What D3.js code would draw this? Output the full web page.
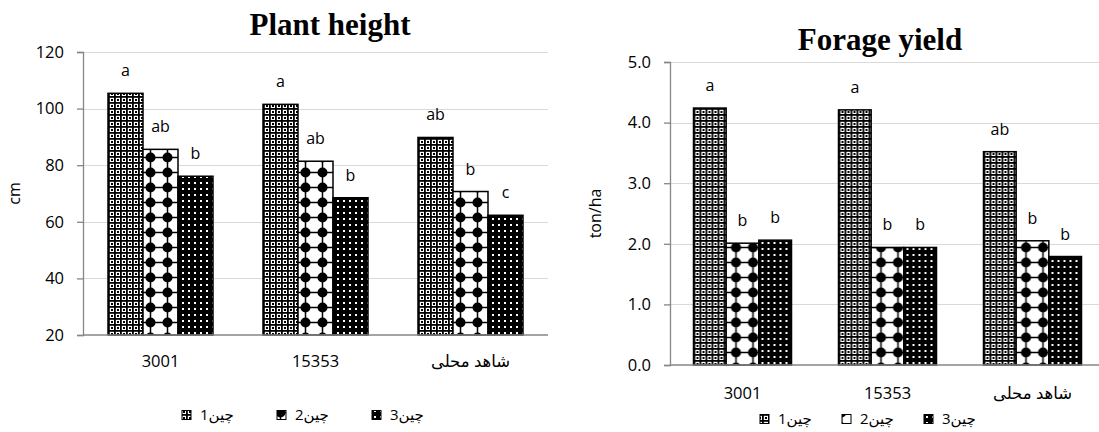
<!DOCTYPE html>
<html><head><meta charset="utf-8">
<script src="https://cdn.jsdelivr.net/npm/d3@7"></script>
<style>
html,body{margin:0;padding:0;background:#fff;}
svg{display:block;}
.t{font-family:"Open Sans","DejaVu Sans",sans-serif;fill:#000;}
.ttl{font-family:"Liberation Serif","Times New Roman",serif;font-weight:bold;fill:#000;}
</style></head>
<body>
<svg id="c" width="1099" height="432"></svg>
<script>
const categories = ["3001", "15353", "شاهد محلی"];
const seriesNames = ["چین1", "چین2", "چین3"];
const heightValues = [[105.4, 85.6, 76.1], [101.5, 81.4, 68.5], [89.8, 70.7, 62.3]];
const heightLetters = [["a", "ab", "b"], ["a", "ab", "b"], ["ab", "b", "c"]];
const heightTicks = [20, 40, 60, 80, 100, 120];
const yieldValues = [[4.24, 2.01, 2.06], [4.21, 1.94, 1.94], [3.52, 2.05, 1.79]];
const yieldLetters = [["a", "b", "b"], ["a", "b", "b"], ["ab", "b", "b"]];
const yieldTicks = [0, 1, 2, 3, 4, 5];

const svg = d3.select("#c");
const defs = svg.append("defs");

// pattern 1: dotted grid
const p1 = defs.append("pattern").attr("id", "p1").attr("patternUnits", "userSpaceOnUse").attr("width", 6).attr("height", 6);
p1.append("rect").attr("width", 6).attr("height", 6).attr("fill", "#fff");
p1.append("rect").attr("x", 0).attr("y", 0).attr("width", 1.8).attr("height", 6).attr("fill", "#000");
p1.append("rect").attr("x", 0).attr("y", 0).attr("width", 6).attr("height", 1.8).attr("fill", "#000");
p1.append("rect").attr("x", 3).attr("y", 3).attr("width", 2).attr("height", 2).attr("fill", "#000");
// pattern 2: dots at grid points with lines
const p2 = defs.append("pattern").attr("id", "p2").attr("patternUnits", "userSpaceOnUse").attr("width", 17).attr("height", 15);
p2.append("rect").attr("width", 17).attr("height", 15).attr("fill", "#fff");
p2.append("line").attr("x1", 8.5).attr("x2", 8.5).attr("y1", 0).attr("y2", 15).attr("stroke", "#000").attr("stroke-width", 1.5);
p2.append("line").attr("x1", 0).attr("x2", 17).attr("y1", 7.5).attr("y2", 7.5).attr("stroke", "#000").attr("stroke-width", 1.5);
p2.append("circle").attr("cx", 8.5).attr("cy", 7.5).attr("r", 5).attr("fill", "#000");
// pattern 3: black with white dots
const p3 = defs.append("pattern").attr("id", "p3").attr("patternUnits", "userSpaceOnUse").attr("width", 6).attr("height", 6);
p3.append("rect").attr("width", 6).attr("height", 6).attr("fill", "#000");
p3.append("rect").attr("x", 2).attr("y", 2).attr("width", 2).attr("height", 2).attr("fill", "#fff");
const fills = ["url(#p1)", "url(#p2)", "url(#p3)"];

function chart(cfg) {
  const g = svg.append("g");
  const x = d3.scaleBand().domain(categories).range([cfg.x0, cfg.x1]).paddingInner(cfg.pad).paddingOuter(cfg.pad / 2);
  const xs = d3.scaleBand().domain(seriesNames).range([0, x.bandwidth()]);
  const y = d3.scaleLinear().domain(cfg.domain).range([cfg.yb, cfg.yt]);

  // gridlines
  g.append("g").selectAll("line").data(cfg.ticks.slice(1)).join("line")
    .attr("x1", cfg.x0).attr("x2", cfg.gx1).attr("y1", d => Math.round(y(d)) + 0.5).attr("y2", d => Math.round(y(d)) + 0.5)
    .attr("stroke", "#d9d9d9").attr("stroke-width", 1);

  // y axis
  const ya = d3.axisLeft(y).tickValues(cfg.ticks).tickSize(6).tickPadding(13).tickFormat(cfg.fmt);
  const yg = g.append("g").attr("transform", `translate(${cfg.x0},0)`).call(ya);
  yg.select(".domain").attr("stroke", "#868686").attr("stroke-width", 1.3);
  yg.selectAll(".tick line").attr("stroke", "#868686").attr("stroke-width", 1.3);
  yg.selectAll(".tick text").attr("class", "t").style("font-size", "16.5px").attr("font-family", null);

  // bars
  const grp = g.append("g").selectAll("g").data(categories).join("g")
    .attr("transform", d => `translate(${x(d)},0)`);
  grp.each(function (cat, ci) {
    const gg = d3.select(this);
    seriesNames.forEach((s, si) => {
      const v = cfg.values[ci][si];
      gg.append("rect").attr("x", xs(s)).attr("y", y(v)).attr("width", xs.bandwidth()).attr("height", y(cfg.domain[0]) - y(v))
        .attr("fill", fills[si]).attr("stroke", "#000").attr("stroke-width", 1.5);
      gg.append("text").attr("class", "t").attr("x", xs(s) + xs.bandwidth() / 2).attr("y", y(v) - 17)
        .attr("text-anchor", "middle").style("font-size", "16px").text(cfg.letters[ci][si]);
    });
  });

  // x axis line
  g.append("line").attr("x1", cfg.x0).attr("x2", cfg.gx1).attr("y1", cfg.yb).attr("y2", cfg.yb)
    .attr("stroke", "#868686").attr("stroke-width", 1.5);
  // x labels
  g.append("g").selectAll("text").data(categories).join("text").attr("class", "t")
    .attr("x", d => x(d) + x.bandwidth() / 2).attr("y", cfg.yb + cfg.xlab)
    .attr("text-anchor", "middle").style("font-size", "16.5px").text(d => d);

  // y title
  g.append("text").attr("class", "t").attr("transform", `translate(${cfg.ytx},${(cfg.yt + cfg.yb) / 2}) rotate(-90)`)
    .attr("text-anchor", "middle").attr("dy", "0.35em").style("font-size", "16px").text(cfg.ytitle);
  // title
  g.append("text").attr("class", "ttl").attr("x", cfg.tx).attr("y", cfg.ty).attr("text-anchor", "middle")
    .style("font-size", "31px").text(cfg.title);

  // legend
  const lg = g.append("g");
  seriesNames.forEach((s, i) => {
    const lx = cfg.lx + i * cfg.lstep;
    lg.append("rect").attr("x", lx).attr("y", cfg.ly - 4.5).attr("width", 9).attr("height", 9)
      .attr("fill", fills[i]).attr("stroke", "#000").attr("stroke-width", 1);
    lg.append("text").attr("class", "t").attr("x", lx + 18).attr("y", cfg.ly).attr("dy", "0.35em")
      .style("font-size", "15px").text(s);
  });
}

chart({x0: 83, x1: 548, gx1: 548, pad: 50 / 155, domain: [20, 120], yb: 335, yt: 52, ticks: heightTicks, fmt: d3.format("d"),
  values: heightValues, letters: heightLetters, xlab: 32, ytx: 14, ytitle: "cm", title: "Plant height", tx: 330, ty: 35,
  lx: 182, lstep: 95, ly: 415});
chart({x0: 670, x1: 1105, gx1: 1099, pad: 47 / 145, domain: [0, 5], yb: 365, yt: 62, ticks: yieldTicks, fmt: d3.format(".1f"),
  values: yieldValues, letters: yieldLetters, xlab: 34, ytx: 595, ytitle: "ton/ha", title: "Forage yield", tx: 880, ty: 50,
  lx: 760, lstep: 82, ly: 419});
</script>
</body></html>
